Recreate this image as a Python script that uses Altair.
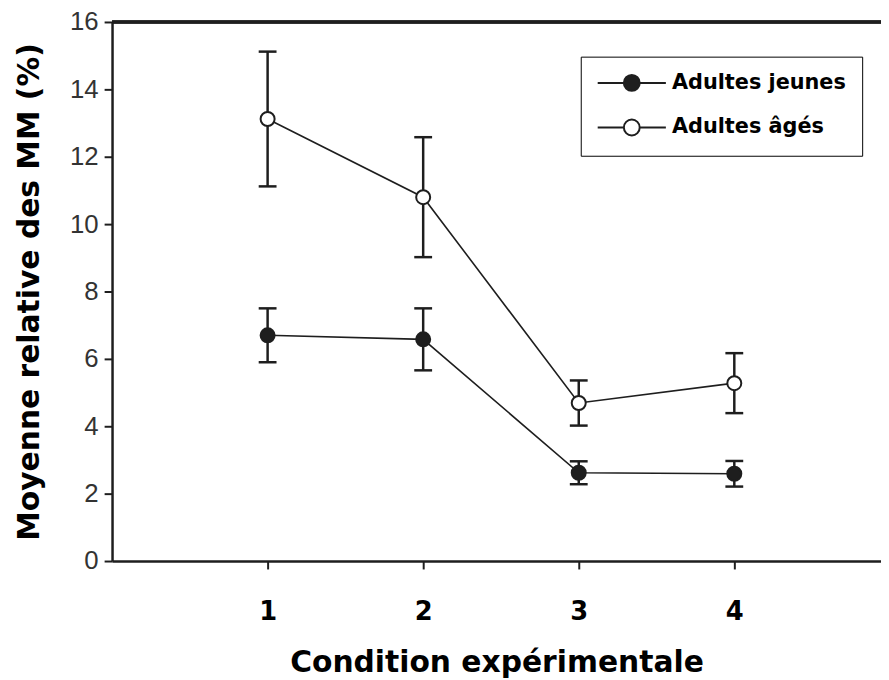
import altair as alt
import pandas as pd

conditions = [1, 2, 3, 4]
groups = ["Adultes jeunes", "Adultes âgés"]
jeunes_mean = [6.70, 6.58, 2.62, 2.59]
jeunes_err = [0.80, 0.92, 0.34, 0.38]
ages_mean = [13.12, 10.80, 4.69, 5.28]
ages_err = [2.00, 1.78, 0.67, 0.89]

rows = []
for g, means, errs in [(groups[0], jeunes_mean, jeunes_err), (groups[1], ages_mean, ages_err)]:
    for c, m, e in zip(conditions, means, errs):
        rows.append({"condition": c, "groupe": g, "moyenne": m, "lo": m - e, "hi": m + e})
df = pd.DataFrame(rows)

DARK = "#1e1e1e"
FONT_B = "DejaVu Sans"

xscale = alt.Scale(domain=[0, 4.943], nice=False, zero=False)
yscale = alt.Scale(domain=[0, 16], nice=False)

xaxis = alt.Axis(values=conditions, format="d", grid=False, labelFont=FONT_B, labelFontWeight="bold",
                 labelFontSize=26, labelColor="black", labelPadding=30, tickSize=8, tickWidth=2,
                 tickColor=DARK, domainColor=DARK, domainWidth=2.5,
                 title="Condition expérimentale", titleFont=FONT_B, titleFontWeight="bold",
                 titleFontSize=30, titleColor="black", titleY=102, titleBaseline="middle")
yaxis = alt.Axis(values=[0, 2, 4, 6, 8, 10, 12, 14, 16], grid=False, labelFont="Liberation Sans",
                 labelFontSize=26, labelColor="#333333", labelPadding=6, tickSize=8, tickWidth=2,
                 tickColor=DARK, domainColor=DARK, domainWidth=2.5,
                 title="Moyenne relative des MM (%)", titleFont=FONT_B, titleFontWeight="bold",
                 titleFontSize=30, titleColor="black", titleX=-83, titleY=272,
                 titleAngle=-90, titleAlign="center", titleBaseline="middle")

base = alt.Chart(df)

top_border = alt.Chart(df).mark_rule(color=DARK, strokeWidth=2.5).encode(y=alt.datum(16))

err_rule = base.mark_rule(color=DARK, strokeWidth=2.5).encode(
    x=alt.X("condition:Q", scale=xscale, axis=xaxis),
    y=alt.Y("lo:Q", scale=yscale, axis=yaxis),
    y2="hi:Q",
)
cap_lo = base.mark_tick(color=DARK, orient="horizontal", size=18, thickness=2.5, opacity=1).encode(
    x=alt.X("condition:Q", scale=xscale), y=alt.Y("lo:Q", scale=yscale))
cap_hi = base.mark_tick(color=DARK, orient="horizontal", size=18, thickness=2.5, opacity=1).encode(
    x=alt.X("condition:Q", scale=xscale), y=alt.Y("hi:Q", scale=yscale))

lines = base.mark_line(color=DARK, strokeWidth=1.6).encode(
    x=alt.X("condition:Q", scale=xscale),
    y=alt.Y("moyenne:Q", scale=yscale),
    detail="groupe:N",
)

legend_path = "M-4.3,0H-1 M1,0H4.3 M-1,0A1,1 0 1,0 1,0A1,1 0 1,0 -1,0Z"

points = base.mark_point(filled=True, size=200, stroke=DARK, strokeWidth=2, opacity=1).encode(
    x=alt.X("condition:Q", scale=xscale),
    y=alt.Y("moyenne:Q", scale=yscale),
    fill=alt.Fill("groupe:N", scale=alt.Scale(domain=groups, range=[DARK, "white"]),
                  legend=alt.Legend(title=None, orient="none", legendX=473, legendY=35,
                                    symbolType=legend_path, symbolSize=256,
                                    symbolStrokeColor=DARK, symbolStrokeWidth=2,
                                    symbolOpacity=1, symbolOffset=25, labelOffset=30,
                                    labelFont=FONT_B, labelFontWeight="bold", labelFontSize=21,
                                    labelLimit=400,
                                    labelColor="black", rowPadding=20, padding=16,
                                    strokeColor="black", fillColor="white")),
)

chart = alt.layer(top_border, err_rule, cap_lo, cap_hi, lines, points).properties(
    width=776, height=544,
    autosize=alt.AutoSizeParams(type="none"),
    padding={"left": 105, "top": 11, "right": 0, "bottom": 122},
).configure_view(stroke=None).configure_legend(strokeWidth=2).configure(background="white")

chart.save("out.html", embed_options={"renderer": "svg", "actions": False})
